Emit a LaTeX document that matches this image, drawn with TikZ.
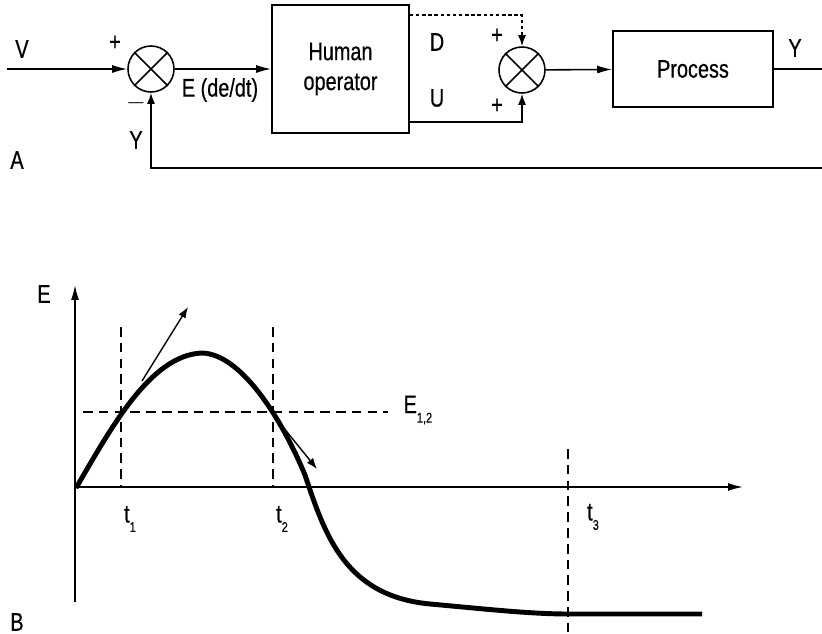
\documentclass[tikz,border=0pt]{standalone}
\usepackage{fontspec}
\setmainfont{Liberation Sans}[FakeStretch=0.78, FakeBold=0.5]
\usetikzlibrary{arrows.meta, positioning, calc}
\newcommand{\lowsub}[1]{\raisebox{-0.7ex}{\footnotesize #1}}

\begin{document}
\begin{tikzpicture}[
  x=0.02cm, y=-0.02cm,
  font=\fontsize{14.5}{17}\selectfont,
  line width=0.9pt,
  blok/.style={rectangle, draw, inner sep=0pt, align=center},
  sumj/.style={circle, draw, minimum size=0.92cm, inner sep=0pt},
  fl/.style={-{Latex[length=3mm, width=1.6mm]}},
  flp/.style={-{Latex[length=2.2mm, width=1.6mm]}},
  raya/.style={dashed, dash pattern=on 5.5pt off 3.5pt},
  punto/.style={dash pattern=on 2pt off 1.5pt},
  curva/.style={line width=2.8pt, line cap=butt}
]
\useasboundingbox (0,0) rectangle (822,634);

% ---- A: lazo de control ----
\node[sumj] (s1) at (151,69) {};
\node[blok, minimum width=2.74cm, minimum height=2.56cm] (hum) at (340.5,69) {Human\\operator};
\node[sumj] (s2) at (522,70) {};
\node[blok, minimum width=3.2cm, minimum height=1.52cm] (proc) at (693,69) {Process};
\foreach \s in {s1,s2}
  \draw (\s.north west) -- (\s.south east) (\s.north east) -- (\s.south west);

\coordinate (vin) at (7,69);
\coordinate (yout) at (822,69);
\coordinate (yret) at (822,168);
\coordinate (dout) at ($(hum.north east)+(0,11)$);
\coordinate (uout) at ($(hum.south east)+(0,-12)$);

\draw[fl] (vin) -- (s1);
\draw[fl] (s1) -- (hum);
\draw[flp, punto] (dout) -| (s2.north);
\draw[flp] (uout) -| (s2.south);
\draw[fl] (s2) -- (proc);
\draw (proc) -- (yout);
\draw[flp] (yret) -| (s1.south);

\node (lv) at (22,49) {V};
\node (lp1) at (115,43) {+};
\node (lm1) at (136,103) {$-$};
\node (ly1) at (136,140) {Y};
\node (la) at (17,160) {A};
\node (le) at (220,90) {E (de/dt)};
\node (ld) at (437,42) {D};
\node (lu) at (437,98) {U};
\node (lp2) at (497,36) {+};
\node (lp3) at (497,106) {+};
\node (ly2) at (795,48) {Y};

% ---- B: respuesta ----
\coordinate (O) at (75,487);
\coordinate (ytop) at (75,285);
\coordinate (ybot) at (75,602);
\coordinate (xend) at (743,487);
\draw[fl] (ybot) -- (ytop);
\draw[fl] (O) -- (xend);

\draw[raya] (121,327) -- (121,487);
\draw[raya] (273,327) -- (273,487);
\draw[raya] (568,449) -- (568,632);
\draw[raya] (83,412) -- (388,412);

\draw[curva] (76,488) .. controls (110,430) and (150,355) .. (202,353)
  .. controls (240,354) and (280,415) .. (305,475)
  .. controls (325,535) and (345,596) .. (430,604)
  .. controls (485,609) and (530,614) .. (568,614) -- (702,614);

\coordinate (tg1) at (142,381);
\coordinate (tg2) at (283,427);
\draw[flp, line width=0.8pt] (tg1) -- (188,307);
\draw[flp, line width=0.8pt] (tg2) -- (317,469);

\node (lE) at (44,294) {E};
\node[anchor=west] (lE12) at (397,410) {E\lowsub{1,2}};
\node (lt1) at (130,519) {t\lowsub{1}};
\node (lt2) at (282,519) {t\lowsub{2}};
\node (lt3) at (593,517) {t\lowsub{3}};
\node (lb) at (17,622) {B};
\end{tikzpicture}
\end{document}
